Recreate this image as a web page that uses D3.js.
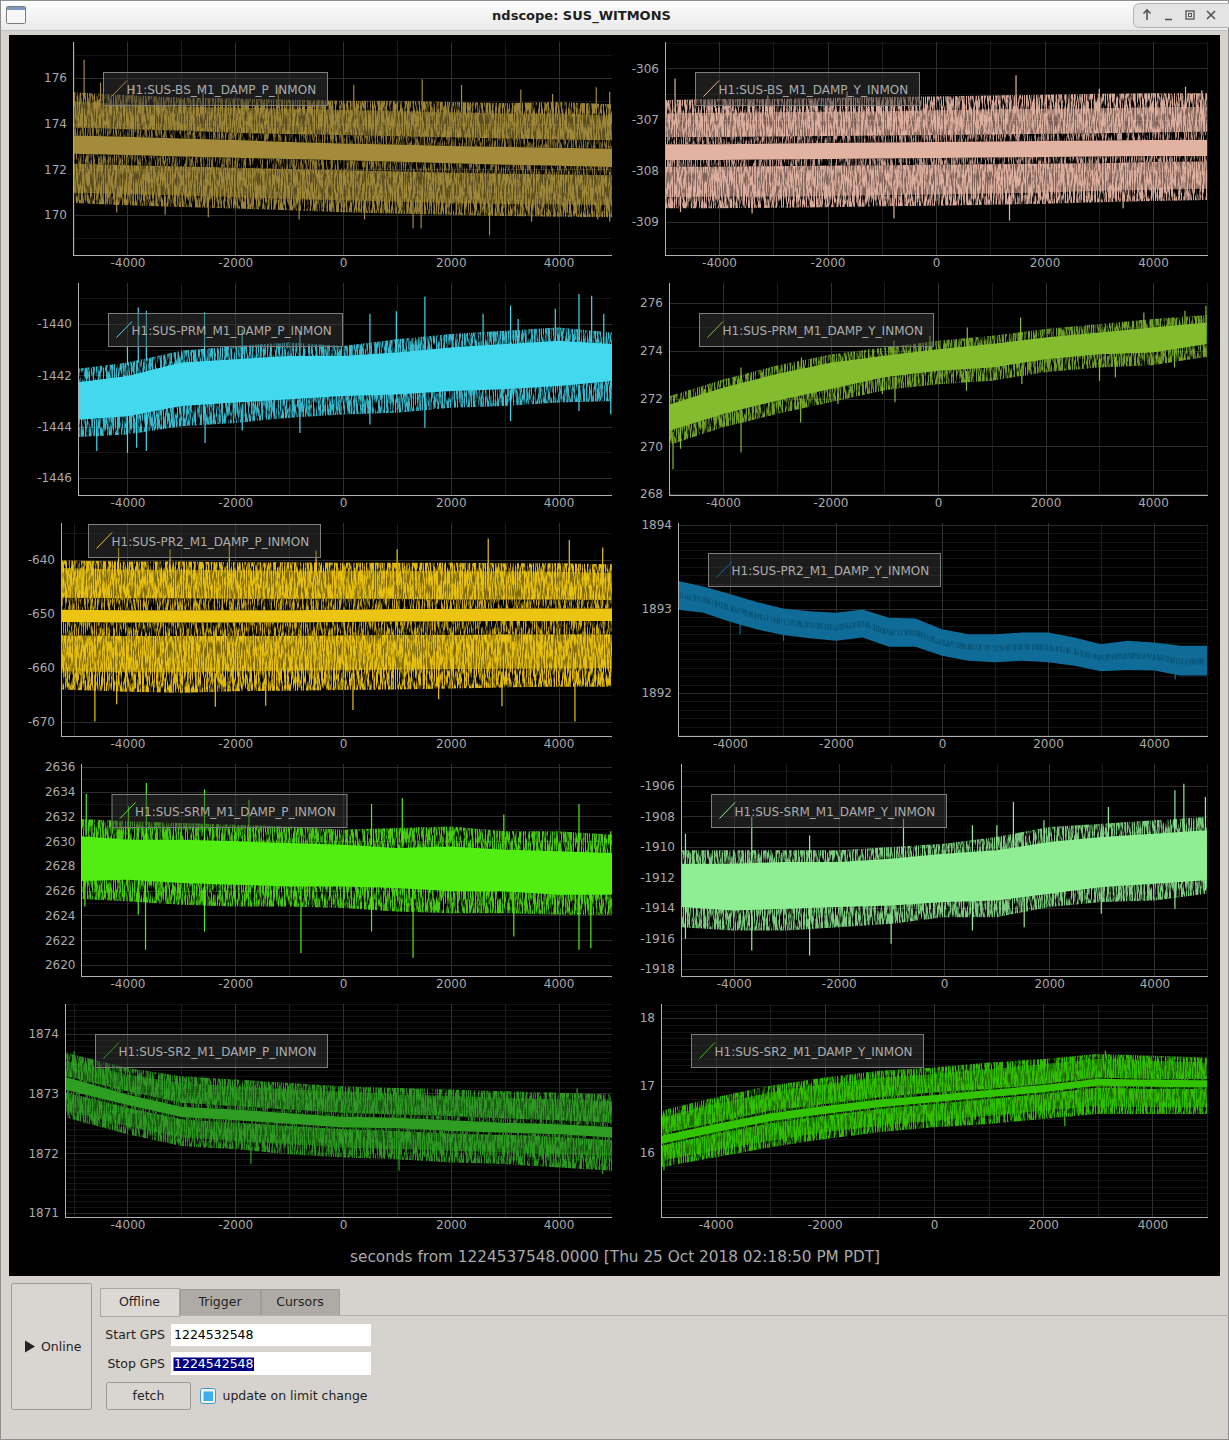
<!DOCTYPE html>
<html>
<head>
<meta charset="utf-8">
<title>ndscope: SUS_WITMONS</title>
<script src="https://cdn.jsdelivr.net/npm/d3@7"></script>
<style>
    body { margin: 0; background: #d6d3ce; }
    svg { display: block; font-family: "DejaVu Sans", sans-serif; }
</style>
</head>
<body>
<svg id="win" width="1229" height="1440"></svg>
<script>
// time grids, seconds from 1224537548
const tLeft = [-5250, -4000, -3000, -2000, -1000, 0, 1000, 2000, 3000, 4000, 5000];
const tRight = [-5000, -4000, -3000, -2000, -1000, 0, 1000, 2000, 3000, 4000, 5000];
const tFine = [-5000, -4500, -4000, -3500, -3000, -2500, -2000, -1500, -1000, -500, 0, 500, 1000, 1500, 2000, 2500, 3000, 3500, 4000, 4500, 5000];
const xTicks = [-4000, -2000, 0, 2000, 4000];
const xMinor = [-5000, -3000, -1000, 1000, 3000, 5000];

// H1:SUS-BS_M1_DAMP_P_INMON  (max / mean / min trend envelopes)
const bsP_range = [168.24, 177.58];
const bsP_ticks = [170, 172, 174, 176];
const bsP_fuzzTop = [175.4, 175.25, 175.15, 175.1, 175.05, 175.0, 175.0, 174.95, 174.9, 174.95, 174.85];
const bsP_maxHi = [175.0, 174.85, 174.75, 174.7, 174.65, 174.6, 174.55, 174.5, 174.45, 174.45, 174.35];
const bsP_maxLo = [173.85, 173.75, 173.7, 173.6, 173.55, 173.5, 173.45, 173.4, 173.35, 173.3, 173.27];
const bsP_meanHi = [173.5, 173.42, 173.35, 173.28, 173.2, 173.13, 173.08, 173.02, 172.98, 172.94, 172.9];
const bsP_meanLo = [172.7, 172.62, 172.56, 172.5, 172.45, 172.4, 172.33, 172.26, 172.2, 172.15, 172.1];
const bsP_minHi = [172.25, 172.18, 172.12, 172.07, 172.0, 171.96, 171.9, 171.85, 171.8, 171.77, 171.74];
const bsP_minLo = [171.0, 170.9, 170.85, 170.78, 170.7, 170.64, 170.58, 170.52, 170.48, 170.45, 170.42];
const bsP_fuzzBot = [170.55, 170.42, 170.35, 170.28, 170.2, 170.12, 170.05, 170.0, 169.95, 169.92, 169.9];
const bsP_spikes = [[-4805, 175.2, 176.8], [-4500, 175.0, 175.8], [-3900, 174.9, 175.7], [-2600, 174.8, 175.6], [-1200, 174.7, 175.6],
    [200, 174.6, 175.7], [1470, 174.55, 175.95], [2200, 174.5, 175.7], [3300, 174.45, 175.5], [3890, 174.45, 175.3], [4700, 174.4, 175.6],
    [4950, 174.4, 175.4], [-4200, 170.9, 170.1], [-3300, 170.85, 170.0], [-2500, 170.8, 169.9], [-815, 170.7, 169.8], [400, 170.64, 169.8],
    [1300, 170.6, 169.4], [1450, 170.6, 169.4], [2720, 170.5, 169.1], [3500, 170.48, 169.7], [4730, 170.45, 169.8], [4950, 170.45, 169.7]];

// H1:SUS-BS_M1_DAMP_Y_INMON
const bsY_range = [-309.64, -305.49];
const bsY_ticks = [-309, -308, -307, -306];
const bsY_fuzzTop = [-306.62, -306.6, -306.6, -306.58, -306.56, -306.55, -306.53, -306.52, -306.5, -306.49, -306.49];
const bsY_maxHi = [-306.88, -306.87, -306.86, -306.85, -306.84, -306.82, -306.8, -306.79, -306.78, -306.76, -306.75];
const bsY_maxLo = [-307.34, -307.34, -307.33, -307.32, -307.31, -307.3, -307.29, -307.28, -307.27, -307.25, -307.24];
const bsY_meanHi = [-307.48, -307.48, -307.47, -307.46, -307.45, -307.44, -307.43, -307.42, -307.41, -307.4, -307.4];
const bsY_meanLo = [-307.79, -307.79, -307.78, -307.77, -307.76, -307.75, -307.74, -307.73, -307.72, -307.71, -307.71];
const bsY_minHi = [-307.92, -307.92, -307.91, -307.9, -307.89, -307.88, -307.87, -307.86, -307.85, -307.83, -307.82];
const bsY_minLo = [-308.51, -308.5, -308.5, -308.49, -308.47, -308.46, -308.44, -308.42, -308.39, -308.37, -308.35];
const bsY_fuzzBot = [-308.73, -308.73, -308.72, -308.71, -308.69, -308.68, -308.66, -308.64, -308.61, -308.59, -308.57];
const bsY_spikes = [[-4810, -306.85, -306.2], [1475, -306.8, -306.14], [4600, -306.76, -306.36], [3010, -306.77, -306.4], [4900, -306.75, -306.43],
    [-1640, -306.85, -306.45], [-3100, -306.86, -306.53], [390, -306.82, -306.56], [-775, -308.47, -308.93], [1355, -308.46, -308.97],
    [-4710, -308.5, -308.8], [-3390, -308.5, -308.83], [3450, -308.4, -308.73]];

// H1:SUS-PRM_M1_DAMP_P_INMON
const prmP_range = [-1446.66, -1438.40];
const prmP_ticks = [-1446, -1444, -1442, -1440];
const prmP_fuzzTop = [-1441.83, -1441.5, -1441.04, -1440.85, -1440.72, -1440.85, -1440.59, -1440.39, -1440.26, -1440.13, -1440.33];
const prmP_hi = [-1442.35, -1442.02, -1441.5, -1441.37, -1441.24, -1441.24, -1441.11, -1440.91, -1440.78, -1440.65, -1440.78];
const prmP_lo = [-1443.78, -1443.59, -1443.19, -1443.06, -1442.93, -1442.8, -1442.74, -1442.61, -1442.54, -1442.41, -1442.22];
const prmP_fuzzBot = [-1444.43, -1444.3, -1443.98, -1443.85, -1443.65, -1443.52, -1443.46, -1443.26, -1443.19, -1443.06, -1443.0];
const prmP_spikes = [[-4000, -1441.6, -1440.85], [-3800, -1441.5, -1439.35], [-3650, -1441.45, -1439.48], [-2570, -1441.3, -1439.54],
    [500, -1441.2, -1439.6], [990, -1441.1, -1439.5], [1520, -1441.0, -1438.93], [2600, -1440.9, -1439.6], [3110, -1440.8, -1439.28],
    [3250, -1440.8, -1439.8], [3940, -1440.7, -1439.4], [4380, -1440.7, -1438.83], [4615, -1440.7, -1438.9], [4840, -1440.75, -1439.6],
    [-800, -1441.3, -1440.26], [-1870, -1441.4, -1440.2], [-4910, -1443.8, -1445.28], [-4570, -1443.7, -1444.95], [-4000, -1443.6, -1445.02],
    [-3830, -1443.5, -1444.82], [-3650, -1443.45, -1444.95], [-2560, -1443.2, -1444.63], [-1870, -1443.1, -1444.15], [-800, -1442.95, -1444.24],
    [500, -1442.8, -1443.91], [1520, -1442.7, -1444.04], [3110, -1442.55, -1443.78], [4380, -1442.35, -1443.39], [4970, -1442.25, -1443.52]];

// H1:SUS-PRM_M1_DAMP_Y_INMON
const prmY_range = [267.96, 276.84];
const prmY_ticks = [268, 270, 272, 274, 276];
const prmY_fuzzTop = [272.1, 272.8, 273.38, 273.85, 274.14, 274.42, 274.63, 274.91, 275.12, 275.33, 275.5];
const prmY_hi = [271.75, 272.45, 273.03, 273.5, 273.79, 274.07, 274.28, 274.56, 274.77, 274.98, 275.19];
const prmY_lo = [270.65, 271.35, 271.91, 272.4, 272.89, 273.16, 273.3, 273.65, 273.86, 273.93, 274.28];
const prmY_fuzzBot = [270.05, 270.8, 271.35, 271.85, 272.35, 272.6, 272.75, 273.1, 273.3, 273.4, 273.75];
const prmY_spikes = [[-3665, 272.5, 273.3], [-2540, 273.1, 273.72], [-1290, 273.6, 274.07], [-820, 273.8, 274.42], [-150, 273.95, 274.63],
    [545, 274.1, 274.98], [1537, 274.4, 275.4], [3830, 274.9, 275.6], [4595, 275.0, 275.68], [4985, 275.1, 275.89], [-4340, 272.0, 272.4],
    [-4930, 270.6, 269.04], [-4790, 270.8, 269.9], [-3665, 271.5, 269.74], [-2555, 272.0, 271.0], [-1860, 272.5, 271.77], [-1035, 272.85, 272.19],
    [-800, 272.9, 271.84], [530, 273.15, 272.33], [1560, 273.35, 272.61], [3005, 273.7, 272.75], [3300, 273.75, 272.89], [4400, 273.95, 273.3],
    [4985, 274.1, 273.72]];

// H1:SUS-PR2_M1_DAMP_P_INMON
const pr2P_range = [-672.6, -633.15];
const pr2P_ticks = [-670, -660, -650, -640];
const pr2P_fuzzTop = [-640.1, -640.3, -640.3, -640.4, -640.4, -640.5, -640.5, -640.5, -640.6, -640.6, -640.8];
const pr2P_maxHi = [-641.5, -641.8, -641.8, -641.9, -642.0, -642.0, -642.0, -642.1, -642.1, -642.2, -642.4];
const pr2P_maxLo = [-647.0, -647.1, -647.1, -647.2, -647.2, -647.2, -647.2, -647.3, -647.3, -647.3, -647.4];
const pr2P_meanHi = [-649.2, -649.3, -649.3, -649.3, -649.3, -649.2, -649.1, -649.1, -649.0, -649.0, -649.0];
const pr2P_meanLo = [-651.5, -651.6, -651.6, -651.6, -651.6, -651.5, -651.4, -651.4, -651.3, -651.3, -651.3];
const pr2P_minHi = [-654.0, -654.1, -654.1, -654.1, -654.1, -654.0, -653.9, -653.9, -653.8, -653.8, -653.8];
const pr2P_minLo = [-660.6, -660.8, -660.8, -660.6, -660.5, -660.4, -660.3, -660.2, -660.1, -660.0, -660.0];
const pr2P_fuzzBot = [-664.0, -664.4, -664.6, -664.3, -664.2, -664.1, -664.0, -663.8, -663.6, -663.5, -663.5];
const pr2P_spikes = [[-4165, -642.9, -637.7], [-3210, -642.9, -638.0], [-2110, -642.9, -637.1], [1005, -642.9, -638.0], [2695, -642.9, -636.0],
    [4200, -643.2, -636.3], [4820, -643.2, -637.7], [-500, -642.9, -638.3], [-4605, -661.2, -669.9], [-4200, -661.3, -666.7],
    [-2370, -661.0, -667.2], [-1435, -661.0, -667.0], [185, -660.9, -667.8], [1775, -660.8, -665.8], [2950, -660.7, -667.1], [4305, -660.6, -669.9]];

// H1:SUS-PR2_M1_DAMP_Y_INMON
const pr2Y_range = [1891.49, 1894.02];
const pr2Y_ticks = [1892, 1893, 1894];
const pr2Y_hi = [1893.333, 1893.267, 1893.176, 1893.082, 1893.004, 1892.973, 1892.953, 1892.992, 1892.894, 1892.886, 1892.757,
    1892.698, 1892.698, 1892.718, 1892.718, 1892.659, 1892.58, 1892.62, 1892.6, 1892.561, 1892.561];
const pr2Y_mean = [1893.169, 1893.11, 1893.012, 1892.914, 1892.847, 1892.808, 1892.776, 1892.824, 1892.718, 1892.718, 1892.6,
    1892.549, 1892.533, 1892.549, 1892.541, 1892.494, 1892.416, 1892.443, 1892.431, 1892.376, 1892.376];
const pr2Y_lo = [1892.992, 1892.953, 1892.847, 1892.757, 1892.69, 1892.651, 1892.62, 1892.659, 1892.549, 1892.549, 1892.443,
    1892.384, 1892.365, 1892.384, 1892.365, 1892.325, 1892.259, 1892.275, 1892.267, 1892.208, 1892.208];
const pr2Y_spikes = [[-3810, 1892.95, 1892.70], [-2990, 1892.85, 1892.62], [4400, 1892.30, 1892.16]];

// H1:SUS-SRM_M1_DAMP_P_INMON
const srmP_range = [2619.11, 2636.24];
const srmP_ticks = [2620, 2622, 2624, 2626, 2628, 2630, 2632, 2634, 2636];
const srmP_fuzzTop = [2631.88, 2631.61, 2631.47, 2631.34, 2631.2, 2630.93, 2631.07, 2631.2, 2630.8, 2630.8, 2630.53];
const srmP_hi = [2630.53, 2630.12, 2630.12, 2629.99, 2629.85, 2629.72, 2629.45, 2629.58, 2629.32, 2629.18, 2629.05];
const srmP_lo = [2626.75, 2626.89, 2626.62, 2626.49, 2626.35, 2626.35, 2626.22, 2625.95, 2625.95, 2625.68, 2625.68];
const srmP_fuzzBot = [2625.41, 2625.14, 2624.87, 2624.73, 2624.73, 2624.6, 2624.33, 2624.19, 2624.19, 2624.06, 2624.06];
const srmP_spikes = [[-4765, 2630.5, 2633.82], [-3980, 2630.1, 2632.82], [-3650, 2630.1, 2634.7], [-2570, 2630.0, 2634.2], [-1745, 2629.9, 2633.36],
    [530, 2629.7, 2633.0], [1100, 2629.5, 2633.5], [2985, 2629.3, 2632.15], [4380, 2629.1, 2633.0], [4970, 2629.05, 2630.8],
    [-4790, 2626.8, 2624.73], [-3800, 2626.8, 2624.06], [-3665, 2626.8, 2621.23], [-2570, 2626.5, 2622.71], [-780, 2626.35, 2620.96],
    [530, 2626.3, 2622.71], [1300, 2626.1, 2620.56], [3170, 2625.9, 2622.3], [4380, 2625.7, 2621.23], [4600, 2625.7, 2621.36]];

// H1:SUS-SRM_M1_DAMP_Y_INMON
const srmY_range = [-1918.46, -1904.56];
const srmY_ticks = [-1918, -1916, -1914, -1912, -1910, -1908, -1906];
const srmY_fuzzTop = [-1910.22, -1910.22, -1910.22, -1910.22, -1910.0, -1909.79, -1909.35, -1908.69, -1908.47, -1908.25, -1908.04];
const srmY_hi = [-1911.1, -1911.1, -1910.99, -1910.99, -1910.77, -1910.44, -1910.22, -1909.68, -1909.35, -1909.13, -1908.91];
const srmY_lo = [-1913.94, -1914.16, -1914.05, -1913.94, -1913.83, -1913.61, -1913.51, -1913.07, -1912.63, -1912.41, -1912.19];
const srmY_fuzzBot = [-1915.26, -1915.47, -1915.47, -1915.26, -1915.04, -1914.6, -1914.6, -1913.94, -1913.61, -1913.51, -1913.07];
const srmY_spikes = [[-4915, -1911.1, -1909.13], [-3655, -1911.1, -1908.04], [-2555, -1911.0, -1909.24], [-770, -1910.7, -1908.14],
    [540, -1910.3, -1908.58], [1005, -1910.2, -1908.58], [1320, -1910.1, -1907.05], [3125, -1909.3, -1907.38], [4390, -1909.1, -1906.28],
    [4560, -1909.0, -1905.85], [4970, -1908.9, -1906.72], [1900, -1909.7, -1908.25], [-4915, -1913.9, -1916.02], [-3655, -1914.1, -1916.79],
    [-2555, -1914.0, -1917.12], [-1005, -1913.8, -1916.35], [540, -1913.5, -1915.47], [1525, -1913.3, -1915.26], [2990, -1912.6, -1914.38],
    [4390, -1912.4, -1914.05], [4970, -1912.2, -1912.85]];

// H1:SUS-SR2_M1_DAMP_P_INMON
const sr2P_range = [1870.93, 1874.5];
const sr2P_ticks = [1871, 1872, 1873, 1874];
const sr2P_fuzzTop = [1873.706, 1873.428, 1873.289, 1873.233, 1873.178, 1873.122, 1873.094, 1873.067, 1873.039, 1873.011, 1872.983];
const sr2P_maxHi = [1873.567, 1873.317, 1873.178, 1873.122, 1873.067, 1873.039, 1872.983, 1872.956, 1872.928, 1872.9, 1872.872];
const sr2P_maxLo = [1873.317, 1873.039, 1872.844, 1872.789, 1872.733, 1872.678, 1872.65, 1872.622, 1872.583, 1872.55, 1872.511];
const sr2P_meanHi = [1873.306, 1872.983, 1872.778, 1872.733, 1872.667, 1872.611, 1872.594, 1872.55, 1872.511, 1872.483, 1872.439];
const sr2P_meanLo = [1873.083, 1872.806, 1872.606, 1872.55, 1872.494, 1872.428, 1872.417, 1872.372, 1872.344, 1872.317, 1872.261];
const sr2P_minHi = [1873.039, 1872.761, 1872.567, 1872.511, 1872.456, 1872.4, 1872.372, 1872.328, 1872.306, 1872.272, 1872.217];
const sr2P_minLo = [1872.733, 1872.456, 1872.261, 1872.206, 1872.15, 1872.094, 1872.067, 1872.039, 1872.011, 1871.983, 1871.956];
const sr2P_fuzzBot = [1872.622, 1872.317, 1872.122, 1872.067, 1871.983, 1871.928, 1871.9, 1871.844, 1871.817, 1871.761, 1871.706];
const sr2P_spikes = [[-1710, 1872.2, 1871.82], [1040, 1872.1, 1871.71], [4820, 1872.0, 1871.65], [4345, 1872.9, 1873.09], [-1370, 1873.05, 1873.18],
    [-4990, 1873.5, 1873.71]];

// H1:SUS-SR2_M1_DAMP_Y_INMON
const sr2Y_range = [15.05, 18.21];
const sr2Y_ticks = [16, 17, 18];
const sr2Y_fuzzTop = [16.627, 16.825, 16.998, 17.121, 17.22, 17.269, 17.343, 17.393, 17.467, 17.442, 17.417];
const sr2Y_maxHi = [16.528, 16.726, 16.899, 17.022, 17.121, 17.17, 17.244, 17.319, 17.393, 17.368, 17.343];
const sr2Y_maxLo = [16.281, 16.454, 16.627, 16.726, 16.825, 16.899, 16.948, 17.022, 17.121, 17.096, 17.096];
const sr2Y_meanHi = [16.257, 16.43, 16.588, 16.696, 16.795, 16.859, 16.933, 17.007, 17.101, 17.086, 17.077];
const sr2Y_meanLo = [16.133, 16.306, 16.469, 16.578, 16.677, 16.751, 16.825, 16.899, 16.998, 16.983, 16.973];
const sr2Y_minHi = [16.109, 16.281, 16.44, 16.553, 16.652, 16.726, 16.8, 16.874, 16.973, 16.948, 16.948];
const sr2Y_minLo = [15.886, 16.035, 16.183, 16.306, 16.405, 16.479, 16.553, 16.627, 16.701, 16.677, 16.677];
const sr2Y_fuzzBot = [15.788, 15.936, 16.084, 16.207, 16.306, 16.38, 16.43, 16.504, 16.578, 16.578, 16.578];
const sr2Y_spikes = [[-4945, 15.9, 15.74], [3140, 17.4, 17.52], [2395, 16.62, 16.4], [-1200, 16.4, 16.31]];

const panels = [
    { name: 'H1:SUS-BS_M1_DAMP_P_INMON', color: '#a38b3b', t: tLeft, range: bsP_range, ticks: bsP_ticks, minor: 1,
      bands: [bsP_fuzzTop, bsP_maxHi, bsP_maxLo, bsP_meanHi, bsP_meanLo, bsP_minHi, bsP_minLo, bsP_fuzzBot], spikes: bsP_spikes },
    { name: 'H1:SUS-BS_M1_DAMP_Y_INMON', color: '#e3b3a2', t: tRight, range: bsY_range, ticks: bsY_ticks, minor: 0.5,
      bands: [bsY_fuzzTop, bsY_maxHi, bsY_maxLo, bsY_meanHi, bsY_meanLo, bsY_minHi, bsY_minLo, bsY_fuzzBot], spikes: bsY_spikes },
    { name: 'H1:SUS-PRM_M1_DAMP_P_INMON', color: '#42d8ee', t: tLeft, range: prmP_range, ticks: prmP_ticks, minor: 1,
      bands: [prmP_fuzzTop, prmP_hi, prmP_lo, prmP_fuzzBot], spikes: prmP_spikes },
    { name: 'H1:SUS-PRM_M1_DAMP_Y_INMON', color: '#84bc30', t: tRight, range: prmY_range, ticks: prmY_ticks, minor: 1,
      bands: [prmY_fuzzTop, prmY_hi, prmY_lo, prmY_fuzzBot], spikes: prmY_spikes },
    { name: 'H1:SUS-PR2_M1_DAMP_P_INMON', color: '#ecc412', t: tLeft, range: pr2P_range, ticks: pr2P_ticks, minor: 5,
      bands: [pr2P_fuzzTop, pr2P_maxHi, pr2P_maxLo, pr2P_meanHi, pr2P_meanLo, pr2P_minHi, pr2P_minLo, pr2P_fuzzBot], spikes: pr2P_spikes },
    { name: 'H1:SUS-PR2_M1_DAMP_Y_INMON', color: '#0f6c99', t: tFine, range: pr2Y_range, ticks: pr2Y_ticks, minor: 0.1,
      bands: [pr2Y_hi, pr2Y_mean, pr2Y_lo], spikes: pr2Y_spikes },
    { name: 'H1:SUS-SRM_M1_DAMP_P_INMON', color: '#52ee12', t: tLeft, range: srmP_range, ticks: srmP_ticks, minor: 1,
      bands: [srmP_fuzzTop, srmP_hi, srmP_lo, srmP_fuzzBot], spikes: srmP_spikes },
    { name: 'H1:SUS-SRM_M1_DAMP_Y_INMON', color: '#8fee94', t: tRight, range: srmY_range, ticks: srmY_ticks, minor: 1,
      bands: [srmY_fuzzTop, srmY_hi, srmY_lo, srmY_fuzzBot], spikes: srmY_spikes },
    { name: 'H1:SUS-SR2_M1_DAMP_P_INMON', color: '#2e9e22', t: tLeft, range: sr2P_range, ticks: sr2P_ticks, minor: 0.1,
      bands: [sr2P_fuzzTop, sr2P_maxHi, sr2P_maxLo, sr2P_meanHi, sr2P_meanLo, sr2P_minHi, sr2P_minLo, sr2P_fuzzBot], spikes: sr2P_spikes },
    { name: 'H1:SUS-SR2_M1_DAMP_Y_INMON', color: '#33c400', t: tRight, range: sr2Y_range, ticks: sr2Y_ticks, minor: 0.1,
      bands: [sr2Y_fuzzTop, sr2Y_maxHi, sr2Y_maxLo, sr2Y_meanHi, sr2Y_meanLo, sr2Y_minHi, sr2Y_minLo, sr2Y_fuzzBot], spikes: sr2Y_spikes }
];

// pixel layout of each plot: left/top/right/bottom, pixel of t=0, px per second, legend offset
const layout = [
    { l: 73, t: 42, r: 612, b: 255, x0: 343, k: 0.05388, lg: [30, 30] },
    { l: 665, t: 42, r: 1207.5, b: 255, x0: 936, k: 0.05425, lg: [30, 30] },
    { l: 78, t: 283, r: 612, b: 495, x0: 343, k: 0.05388, lg: [30, 30] },
    { l: 669, t: 283, r: 1207.5, b: 495, x0: 938, k: 0.05375, lg: [30, 30] },
    { l: 61, t: 523, r: 612, b: 736, x0: 343, k: 0.05388, lg: [27, 1] },
    { l: 678, t: 523, r: 1207.5, b: 736, x0: 942, k: 0.0530, lg: [30, 30] },
    { l: 81.5, t: 764, r: 612, b: 976, x0: 343, k: 0.05388, lg: [30, 30] },
    { l: 681, t: 764, r: 1207.5, b: 976, x0: 944, k: 0.0526, lg: [30, 30] },
    { l: 65, t: 1004, r: 612, b: 1217, x0: 343, k: 0.05388, lg: [30, 30] },
    { l: 661, t: 1004, r: 1207.5, b: 1217, x0: 934, k: 0.0546, lg: [30, 30] }
];

const svg = d3.select('#win');
const defs = svg.append('defs');

// vertical speckle texture used for the noisy parts of the trends
function streakFilter(id, seed, slope, intercept) {
    let f = defs.append('filter').attr('id', id)
        .attr('filterUnits', 'userSpaceOnUse').attr('x', 0).attr('y', 0).attr('width', 1229).attr('height', 1440)
        .attr('color-interpolation-filters', 'sRGB');
    f.append('feTurbulence').attr('type', 'fractalNoise').attr('baseFrequency', '0.9 0.07')
        .attr('numOctaves', 3).attr('seed', seed).attr('result', 'noise');
    f.append('feColorMatrix').attr('in', 'noise').attr('type', 'matrix')
        .attr('values', `0 0 0 0 0  0 0 0 0 0  0 0 0 0 0  ${slope} 0 0 0 ${intercept}`).attr('result', 'mask');
    f.append('feComposite').attr('in', 'SourceGraphic').attr('in2', 'mask').attr('operator', 'in');
}
streakFilter('streakA', 3, 4.5, -1.6);
streakFilter('streakB', 7, 4.5, -1.85);

// ---- window chrome ----
svg.append('rect').attr('x', 0.5).attr('y', 0.5).attr('width', 1228).attr('height', 1439)
    .attr('fill', '#d6d3ce').attr('stroke', '#8e8e8e');
let tg = defs.append('linearGradient').attr('id', 'titleGrad').attr('x1', 0).attr('y1', 0).attr('x2', 0).attr('y2', 1);
tg.append('stop').attr('offset', 0).attr('stop-color', '#fdfdfd');
tg.append('stop').attr('offset', 1).attr('stop-color', '#eaeaea');
svg.append('rect').attr('x', 1).attr('y', 1).attr('width', 1227).attr('height', 29).attr('fill', 'url(#titleGrad)');
svg.append('line').attr('x1', 1).attr('x2', 1228).attr('y1', 30.5).attr('y2', 30.5).attr('stroke', '#c2c0bc');
svg.append('rect').attr('x', 6.5).attr('y', 6.5).attr('width', 19).attr('height', 17).attr('rx', 1)
    .attr('fill', '#f7f7f7').attr('stroke', '#7b7b7b');
svg.append('rect').attr('x', 7).attr('y', 7).attr('width', 18).attr('height', 3).attr('fill', '#7d97c4');
svg.append('text').attr('x', 581.5).attr('y', 20).attr('text-anchor', 'middle')
    .attr('font-weight', 'bold').attr('font-size', 13).attr('fill', '#1e1e1e').text('ndscope: SUS_WITMONS');
svg.append('path').attr('d', 'M1229,3.5 L1140,3.5 Q1133.5,3.5 1133.5,10 L1133.5,22 Q1133.5,27.5 1140,27.5 L1229,27.5')
    .attr('fill', '#e4e4e4').attr('stroke', '#b3b3b3');
let btn = svg.append('g').attr('stroke', '#555').attr('stroke-width', 1.6).attr('fill', 'none');
btn.append('path').attr('d', 'M1147,20 L1147,10 M1143.5,13.5 L1147,10 L1150.5,13.5');
btn.append('path').attr('d', 'M1165,19.5 L1172,19.5');
btn.append('rect').attr('x', 1186).attr('y', 11).attr('width', 8).attr('height', 8).attr('stroke-width', 1.3);
btn.append('rect').attr('x', 1188.5).attr('y', 13.5).attr('width', 3).attr('height', 3).attr('stroke-width', 1);
btn.append('path').attr('d', 'M1207,11 L1215,19 M1215,11 L1207,19');

// black plot canvas
svg.append('rect').attr('x', 9).attr('y', 35).attr('width', 1211).attr('height', 1241).attr('fill', '#000');

// ---- plots ----
panels.forEach(function (p, i) {
    let L = layout[i];
    let w = L.r - L.l, h = L.b - L.t;
    let x = d3.scaleLinear().domain([(L.l - L.x0) / L.k, (L.r - L.x0) / L.k]).range([L.l, L.r]);
    let y = d3.scaleLinear().domain(p.range).range([L.b, L.t]);
    let g = svg.append('g');

    // grid: minor then major
    let minorY = d3.range(Math.ceil(p.range[0] / p.minor - 1e-6), Math.floor(p.range[1] / p.minor + 1e-6) + 1)
        .map(n => +(n * p.minor).toFixed(4))
        .filter(v => !p.ticks.some(tk => Math.abs(tk - v) < p.minor / 10));
    let gridStyle = (col) => (s) => {
        s.select('.domain').remove();
        s.selectAll('line').attr('stroke', col).attr('shape-rendering', 'crispEdges');
    };
    g.append('g').attr('transform', `translate(${L.l},0)`)
        .call(d3.axisLeft(y).tickValues(minorY).tickSize(-w).tickFormat(''))
        .call(gridStyle('#141414'));
    g.append('g').attr('transform', `translate(0,${L.b})`)
        .call(d3.axisBottom(x).tickValues(xMinor.filter(v => v > x.domain()[0] && v < x.domain()[1])).tickSize(-h).tickFormat(''))
        .call(gridStyle('#1c1c1c'));
    g.append('g').attr('transform', `translate(${L.l},0)`)
        .call(d3.axisLeft(y).tickValues(p.ticks).tickSize(-w).tickFormat(''))
        .call(gridStyle('#2b2b2b'));
    g.append('g').attr('transform', `translate(0,${L.b})`)
        .call(d3.axisBottom(x).tickValues(xTicks).tickSize(-h).tickFormat(''))
        .call(gridStyle('#303030'));

    // data
    defs.append('clipPath').attr('id', 'clip' + i).append('rect')
        .attr('x', L.l).attr('y', L.t).attr('width', w).attr('height', h);
    let dg = g.append('g').attr('clip-path', `url(#clip${i})`);
    let t = p.t;
    function band(lo, hi, opacity, filter) {
        let area = d3.area()
            .x((d, j) => x(t[j]))
            .y0((d, j) => y(lo[j]))
            .y1((d, j) => y(hi[j]));
        let path = dg.append('path').datum(t).attr('d', area)
            .attr('fill', p.color).attr('fill-opacity', opacity);
        if (filter) path.attr('filter', `url(#${filter})`);
    }
    let B = p.bands;
    if (B.length === 8) {
        // max, mean and min trends
        let [fTop, maxHi, maxLo, meanHi, meanLo, minHi, minLo, fBot] = B;
        band(maxLo, fTop, 0.95, 'streakA');
        band(maxLo, maxHi, 0.55);
        band(meanHi, maxLo, 0.85, 'streakB');
        band(minHi, meanLo, 0.85, 'streakB');
        band(fBot, minHi, 0.95, 'streakA');
        band(minLo, minHi, 0.55);
        band(meanLo, meanHi, 1);
    } else if (B.length === 4) {
        let [fTop, hi, lo, fBot] = B;
        band(fBot, fTop, 0.85, 'streakA');
        band(lo, hi, 1);
    } else {
        let [hi, mean, lo] = B;
        band(lo, hi, 1);
        dg.append('path').datum(t)
            .attr('d', d3.line().x((d, j) => x(t[j])).y((d, j) => y(mean[j])))
            .attr('fill', 'none').attr('stroke', '#08506f').attr('stroke-width', 6)
            .attr('stroke-opacity', 0.7).attr('filter', 'url(#streakA)');
    }
    dg.selectAll('line.spike').data(p.spikes).enter().append('line')
        .attr('class', 'spike')
        .attr('x1', d => x(d[0])).attr('x2', d => x(d[0]))
        .attr('y1', d => y(d[1])).attr('y2', d => y(d[2]))
        .attr('stroke', p.color).attr('stroke-width', 1.2);

    // legend
    let lx = L.l + L.lg[0], ly = L.t + L.lg[1];
    let lg = g.append('g');
    let box = lg.append('rect');
    let txt = lg.append('text').attr('x', lx + 23.5).attr('y', ly + 21.5)
        .attr('font-size', 12).attr('fill', '#acacac').text(p.name);
    let tw = txt.node().getComputedTextLength();
    box.attr('x', lx + 0.5).attr('y', ly + 0.5).attr('width', Math.round(tw) + 34).attr('height', 33)
        .attr('fill', 'rgb(56,56,56)').attr('fill-opacity', 0.5).attr('stroke', '#7e7e7e');
    lg.append('line').attr('x1', lx + 8.5).attr('y1', ly + 24.5).attr('x2', lx + 24).attr('y2', ly + 8.5)
        .attr('stroke', p.color).attr('stroke-width', 1);

    // axes
    let axStyle = (s) => {
        s.select('.domain').remove();
        s.attr('font-size', 12).attr('font-family', '"DejaVu Sans", sans-serif').attr('color', '#a9a9a9');
    };
    g.append('g').attr('transform', `translate(${L.l},0)`)
        .call(d3.axisLeft(y).tickValues(p.ticks).tickSize(0).tickPadding(6).tickFormat(String))
        .call(axStyle);
    g.append('g').attr('transform', `translate(0,${L.b})`)
        .call(d3.axisBottom(x).tickValues(xTicks).tickSize(0).tickPadding(3.5).tickFormat(String))
        .call(axStyle);
    g.append('line').attr('x1', L.l).attr('x2', L.l).attr('y1', L.t).attr('y2', L.b + 0.5)
        .attr('stroke', '#b0b0b0').attr('shape-rendering', 'crispEdges');
    g.append('line').attr('x1', L.l).attr('x2', L.r).attr('y1', L.b).attr('y2', L.b)
        .attr('stroke', '#b0b0b0').attr('shape-rendering', 'crispEdges');
});

svg.append('text').attr('x', 615).attr('y', 1262).attr('text-anchor', 'middle')
    .attr('font-size', 15.3).attr('fill', '#a9a9a9')
    .text('seconds from 1224537548.0000 [Thu 25 Oct 2018 02:18:50 PM PDT]');

// ---- control panel ----
let cp = svg.append('g').attr('font-size', 12.5).attr('fill', '#1f1f1f');
cp.append('rect').attr('x', 11.5).attr('y', 1283.5).attr('width', 80).attr('height', 126).attr('rx', 2)
    .attr('fill', '#d9d6d1').attr('stroke', '#9c9994');
cp.append('path').attr('d', 'M25,1340.5 L25,1352.5 L35,1346.5 Z').attr('fill', '#222');
cp.append('text').attr('x', 41).attr('y', 1351).text('Online');

cp.append('rect').attr('x', 100.5).attr('y', 1288.5).attr('width', 79).attr('height', 28)
    .attr('fill', '#dcd9d4').attr('stroke', '#aaa7a2');
cp.append('rect').attr('x', 180.5).attr('y', 1289.5).attr('width', 80).attr('height', 26)
    .attr('fill', '#aeaba6').attr('stroke', '#9f9c97');
cp.append('rect').attr('x', 261.5).attr('y', 1289.5).attr('width', 78).attr('height', 26)
    .attr('fill', '#aeaba6').attr('stroke', '#9f9c97');
cp.append('line').attr('x1', 180).attr('x2', 1229).attr('y1', 1315.5).attr('y2', 1315.5).attr('stroke', '#b3b0ab');
cp.append('text').attr('x', 139.5).attr('y', 1306).attr('text-anchor', 'middle').text('Offline');
cp.append('text').attr('x', 220).attr('y', 1306).attr('text-anchor', 'middle').text('Trigger');
cp.append('text').attr('x', 300).attr('y', 1306).attr('text-anchor', 'middle').text('Cursors');

cp.append('text').attr('x', 165).attr('y', 1339).attr('text-anchor', 'end').text('Start GPS');
cp.append('rect').attr('x', 171).attr('y', 1324).attr('width', 200).attr('height', 22).attr('fill', '#fff');
cp.append('text').attr('x', 174).attr('y', 1339).attr('fill', '#000').text('1224532548');
cp.append('text').attr('x', 165).attr('y', 1367.5).attr('text-anchor', 'end').text('Stop GPS');
cp.append('rect').attr('x', 171).attr('y', 1352).attr('width', 200).attr('height', 23).attr('fill', '#fff');
let sel = cp.append('text').attr('x', 174).attr('y', 1368).attr('fill', '#fff').text('1224542548');
let sw = sel.node().getComputedTextLength();
cp.insert('rect', () => sel.node()).attr('x', 173.5).attr('y', 1357.5).attr('width', sw + 1).attr('height', 13.5).attr('fill', '#000080');

cp.append('rect').attr('x', 106.5).attr('y', 1382.5).attr('width', 84).attr('height', 27).attr('rx', 2)
    .attr('fill', '#d9d6d1').attr('stroke', '#9c9994');
cp.append('text').attr('x', 148.5).attr('y', 1400).attr('text-anchor', 'middle').text('fetch');
cp.append('rect').attr('x', 200.5).attr('y', 1388.5).attr('width', 15).attr('height', 15).attr('rx', 2)
    .attr('fill', '#f4f4f4').attr('stroke', '#3d98d6');
cp.append('rect').attr('x', 203.5).attr('y', 1391.5).attr('width', 9.5).attr('height', 9.5).attr('fill', '#3daee9');
cp.append('text').attr('x', 222.5).attr('y', 1400).text('update on limit change');
</script>
</body>
</html>
